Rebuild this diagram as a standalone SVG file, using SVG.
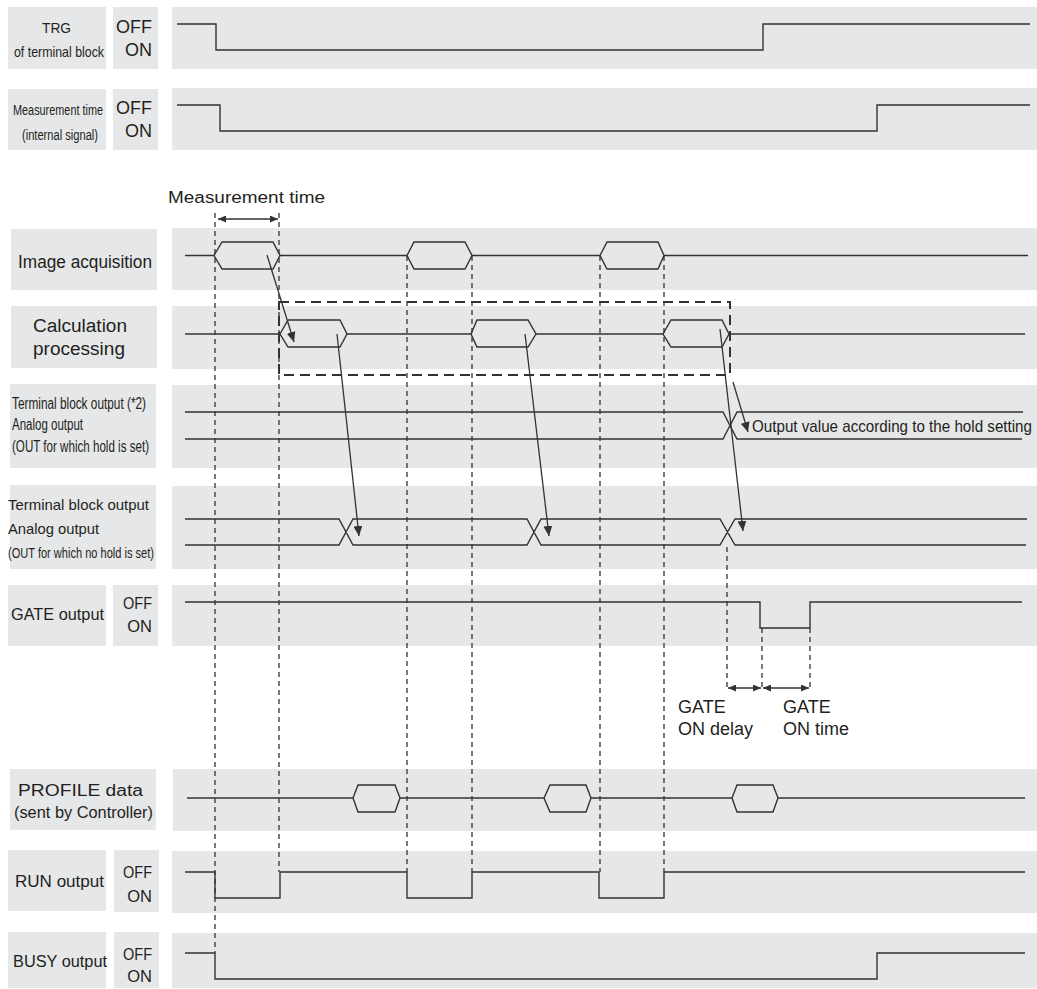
<svg xmlns="http://www.w3.org/2000/svg" width="1037" height="989" viewBox="0 0 1037 989">
<style>
.bg{fill:#e6e7e8}
.w{fill:none;stroke:#333;stroke-width:1.4}
.hex{fill:#e6e7e8;stroke:#333;stroke-width:1.4}
.dl{fill:none;stroke:#333;stroke-width:1.3;stroke-dasharray:5 4}
.db{fill:none;stroke:#333;stroke-width:2;stroke-dasharray:10 6}
.ar{fill:none;stroke:#333;stroke-width:1.3}
text{font-family:"Liberation Sans",Arial,sans-serif;fill:#231f20}
.oo{font-size:18px;text-anchor:end}
.os{font-size:16.5px;text-anchor:end}
</style>
<defs>
<marker id="ah" markerUnits="userSpaceOnUse" markerWidth="10" markerHeight="9" refX="10" refY="4.5" orient="auto"><path d="M0,0 L10,4.5 L0,9 Z" fill="#333"/></marker>
<marker id="sm" markerUnits="userSpaceOnUse" markerWidth="8" markerHeight="7" refX="8" refY="3.5" orient="auto-start-reverse"><path d="M0,0 L8,3.5 L0,7 Z" fill="#333"/></marker>
</defs>

<g id="row-trg">
<rect class="bg" x="8" y="7" width="98" height="62"/>
<rect class="bg" x="113" y="7" width="45" height="62"/>
<rect class="bg" x="172" y="7" width="865" height="62"/>
<text x="42" y="33" font-size="14.5" textLength="29" lengthAdjust="spacingAndGlyphs">TRG</text>
<text x="14" y="57" font-size="14.5" textLength="90" lengthAdjust="spacingAndGlyphs">of terminal block</text>
<text class="oo" x="152" y="33" textLength="36" lengthAdjust="spacingAndGlyphs">OFF</text>
<text class="oo" x="152" y="56">ON</text>
<path class="w" d="M177,24 H216 V50 H763 V24 H1030"/>
</g>

<g id="row-meas">
<rect class="bg" x="8" y="89" width="98" height="61"/>
<rect class="bg" x="113" y="89" width="45" height="61"/>
<rect class="bg" x="172" y="88" width="865" height="62"/>
<text x="13" y="115" font-size="14" textLength="90" lengthAdjust="spacingAndGlyphs">Measurement time</text>
<text x="22" y="140" font-size="14" textLength="76" lengthAdjust="spacingAndGlyphs">(internal signal)</text>
<text class="oo" x="152" y="114" textLength="36" lengthAdjust="spacingAndGlyphs">OFF</text>
<text class="oo" x="152" y="137">ON</text>
<path class="w" d="M177,105 H220 V131 H877 V105 H1030"/>
</g>

<g id="row-image">
<rect class="bg" x="11" y="229" width="146" height="61"/>
<rect class="bg" x="172" y="228" width="865" height="62"/>
<text x="18" y="268" font-size="17.5" textLength="134" lengthAdjust="spacingAndGlyphs">Image acquisition</text>
<path class="w" d="M185,255.5 H1028"/>
<path class="hex" d="M214,255.5 L222,242 H273 L280,255.5 L273,269 H222 Z"/>
<path class="hex" d="M407,255.5 L414,242 H465 L472,255.5 L465,269 H414 Z"/>
<path class="hex" d="M600,255.5 L607,242 H658 L664,255.5 L658,269 H607 Z"/>
</g>

<g id="row-calc">
<rect class="bg" x="11" y="306" width="146" height="62"/>
<rect class="bg" x="172" y="306" width="865" height="63"/>
<text x="33" y="332" font-size="18" textLength="94" lengthAdjust="spacingAndGlyphs">Calculation</text>
<text x="33" y="355" font-size="18" textLength="92" lengthAdjust="spacingAndGlyphs">processing</text>
<path class="w" d="M185,334 H1025"/>
<path class="hex" d="M280,334 L288,320 H340 L347,334 L340,347 H288 Z"/>
<path class="hex" d="M471,334 L477,320 H528 L536,334 L528,347 H477 Z"/>
<path class="hex" d="M663,334 L671,320 H722 L729,334 L722,347 H671 Z"/>
</g>

<g id="row-hold">
<rect class="bg" x="10" y="384" width="146" height="84"/>
<rect class="bg" x="172" y="385" width="865" height="83"/>
<text x="12" y="409" font-size="16" textLength="134" lengthAdjust="spacingAndGlyphs">Terminal block output (*2)</text>
<text x="12" y="430" font-size="16" textLength="71" lengthAdjust="spacingAndGlyphs">Analog output</text>
<text x="12" y="452" font-size="16" textLength="137" lengthAdjust="spacingAndGlyphs">(OUT for which hold is set)</text>
<path class="w" d="M185,412 H723 L737,439 H1022 M185,439 H723 L737,412 H1023"/>
<text x="752" y="432" font-size="17" textLength="280" lengthAdjust="spacingAndGlyphs">Output value according to the hold setting</text>
</g>

<g id="row-nohold">
<rect class="bg" x="10" y="485" width="146" height="84"/>
<rect class="bg" x="172" y="486" width="865" height="83"/>
<text x="8" y="510" font-size="15" textLength="141" lengthAdjust="spacingAndGlyphs">Terminal block output</text>
<text x="8" y="534" font-size="15" textLength="91" lengthAdjust="spacingAndGlyphs">Analog output</text>
<text x="8" y="558" font-size="14" textLength="146" lengthAdjust="spacingAndGlyphs">(OUT for which no hold is set)</text>
<path class="w" d="M185,519 H339 L353,545 H527 L541,519 H720 L735,545 H1026 M185,545 H339 L353,519 H527 L541,545 H720 L735,519 H1027"/>
</g>

<g id="row-gate">
<rect class="bg" x="8" y="585" width="98" height="61"/>
<rect class="bg" x="113" y="585" width="45" height="61"/>
<rect class="bg" x="172" y="585" width="865" height="61"/>
<text x="11" y="620" font-size="16" textLength="93" lengthAdjust="spacingAndGlyphs">GATE output</text>
<text class="os" x="152" y="609" textLength="29" lengthAdjust="spacingAndGlyphs">OFF</text>
<text class="os" x="152" y="632">ON</text>
<path class="w" d="M185,602 H760 V628 H810 V602 H1022"/>
</g>

<g id="gate-timing">
<text x="678" y="713" font-size="18">GATE</text>
<text x="678" y="735" font-size="18">ON delay</text>
<text x="783" y="713" font-size="18">GATE</text>
<text x="783" y="735" font-size="18">ON time</text>
</g>

<g id="row-profile">
<rect class="bg" x="10" y="769" width="146" height="61"/>
<rect class="bg" x="173" y="769" width="864" height="62"/>
<text x="18" y="796" font-size="16" textLength="125" lengthAdjust="spacingAndGlyphs">PROFILE data</text>
<text x="14" y="818" font-size="16" textLength="139" lengthAdjust="spacingAndGlyphs">(sent by Controller)</text>
<path class="w" d="M187,798 H1025"/>
<path class="hex" d="M353,798 L358,785 H395 L400,798 L395,812 H358 Z"/>
<path class="hex" d="M544,798 L550,785 H586 L591,798 L586,812 H550 Z"/>
<path class="hex" d="M732,798 L737,785 H773 L778,798 L773,812 H737 Z"/>
</g>

<g id="row-run">
<rect class="bg" x="8" y="850" width="98" height="61"/>
<rect class="bg" x="114" y="850" width="45" height="62"/>
<rect class="bg" x="172" y="851" width="865" height="62"/>
<text x="15" y="887" font-size="16" textLength="89" lengthAdjust="spacingAndGlyphs">RUN output</text>
<text class="os" x="152" y="878" textLength="29" lengthAdjust="spacingAndGlyphs">OFF</text>
<text class="os" x="152" y="902">ON</text>
<path class="w" d="M185,872 H215 V898 H280 V872 H407 V898 H472 V872 H599 V898 H664 V872 H1025"/>
</g>

<g id="row-busy">
<rect class="bg" x="8" y="932" width="98" height="56"/>
<rect class="bg" x="114" y="932" width="45" height="56"/>
<rect class="bg" x="172" y="933" width="865" height="55"/>
<text x="13" y="967" font-size="16" textLength="94" lengthAdjust="spacingAndGlyphs">BUSY output</text>
<text class="os" x="152" y="960" textLength="29" lengthAdjust="spacingAndGlyphs">OFF</text>
<text class="os" x="152" y="982">ON</text>
<path class="w" d="M185,953 H215 V979 H877 V953 H1025"/>
</g>

<g id="annotation-measurement">
<text x="168" y="203" font-size="16" textLength="157" lengthAdjust="spacingAndGlyphs">Measurement time</text>
</g>

<g id="connectors">
<path class="dl" d="M215,213 V953 M279,213 V872 M407,256 V872 M472,256 V872 M600,256 V872 M664,256 V872 M727,547 V690 M762,628 V690 M810,628 V690"/>
<rect class="db" x="279" y="302" width="451" height="73"/>
<path class="ar" d="M218,219 H278" marker-start="url(#sm)" marker-end="url(#sm)"/>
<path class="ar" d="M728,688 H761" marker-start="url(#sm)" marker-end="url(#sm)"/>
<path class="ar" d="M763,688 H809" marker-start="url(#sm)" marker-end="url(#sm)"/>
<path class="ar" d="M267,255 L294,342" marker-end="url(#ah)"/>
<path class="ar" d="M337,334 L359,536" marker-end="url(#ah)"/>
<path class="ar" d="M525,334 L549,536" marker-end="url(#ah)"/>
<path class="ar" d="M720,329 L743,531" marker-end="url(#ah)"/>
<path class="ar" d="M733,382 L748,432" marker-end="url(#ah)"/>
</g>
</svg>
